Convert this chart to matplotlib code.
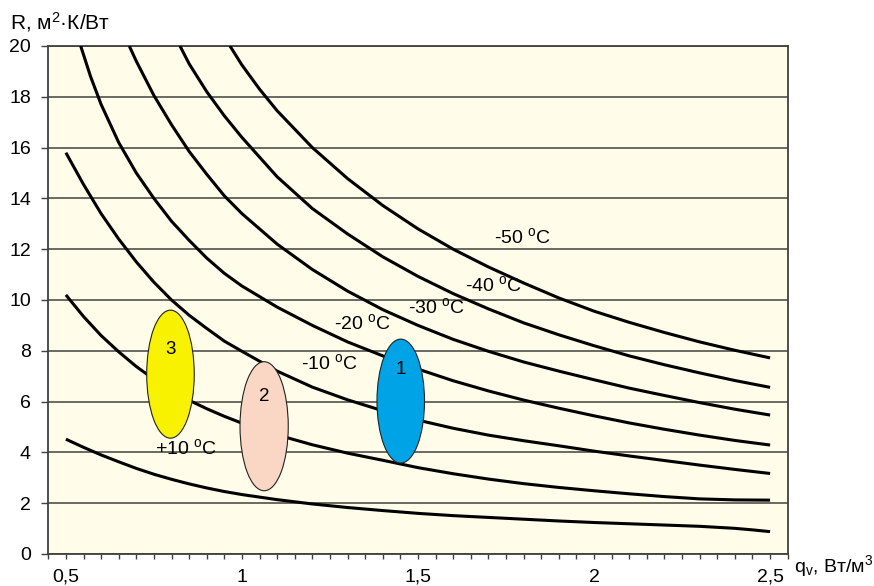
import numpy as np
import matplotlib
matplotlib.use("Agg")
import matplotlib.pyplot as plt
from matplotlib.patches import Ellipse

plt.rcParams['font.family'] = ['Liberation Sans', 'DejaVu Sans']
plt.rcParams['mathtext.default'] = 'regular'

# thermal resistance curves R(q_v) for outside temperatures
q_plus10 = [0.5, 0.55, 0.6, 0.65, 0.7, 0.75, 0.8, 0.85, 0.9, 0.95, 1.0, 1.1, 1.2, 1.3, 1.4,
            1.5, 1.6, 1.7, 1.8, 1.9, 2.0, 2.1, 2.2, 2.3, 2.4, 2.45, 2.5]
r_plus10 = [4.52, 4.2, 3.9, 3.63, 3.37, 3.14, 2.94, 2.76, 2.6, 2.46, 2.34, 2.14, 1.97, 1.83, 1.71,
            1.6, 1.51, 1.44, 1.37, 1.3, 1.24, 1.19, 1.14, 1.09, 1.01, 0.95, 0.88]

q_zero = [0.5, 0.55, 0.6, 0.65, 0.7, 0.75, 0.8, 0.85, 0.9, 0.95, 1.0, 1.1, 1.2, 1.3, 1.4,
          1.5, 1.6, 1.7, 1.8, 1.9, 2.0, 2.1, 2.2, 2.3, 2.4, 2.5]
r_zero = [10.2, 9.35, 8.6, 7.96, 7.38, 6.88, 6.45, 6.05, 5.72, 5.42, 5.15, 4.69, 4.3, 3.97, 3.69,
          3.4, 3.16, 2.95, 2.77, 2.62, 2.49, 2.37, 2.26, 2.17, 2.13, 2.12]

q_minus10 = [0.5, 0.55, 0.6, 0.65, 0.7, 0.75, 0.8, 0.85, 0.9, 0.95, 1.0, 1.1, 1.2, 1.3, 1.4,
             1.5, 1.6, 1.7, 1.8, 1.9, 2.0, 2.1, 2.2, 2.3, 2.4, 2.5]
r_minus10 = [15.8, 14.55, 13.4, 12.4, 11.5, 10.7, 10.0, 9.4, 8.88, 8.38, 7.98, 7.2, 6.57, 6.07, 5.64,
             5.27, 4.95, 4.68, 4.46, 4.26, 4.05, 3.86, 3.68, 3.5, 3.33, 3.17]

q_minus20 = [0.542, 0.57, 0.6, 0.65, 0.7, 0.75, 0.8, 0.85, 0.9, 0.95, 1.0, 1.1, 1.2, 1.3, 1.4,
             1.5, 1.6, 1.7, 1.8, 1.9, 2.0, 2.1, 2.2, 2.3, 2.4, 2.5]
r_minus20 = [20.0, 18.8, 17.7, 16.2, 15.0, 14.0, 13.1, 12.35, 11.65, 11.05, 10.55, 9.72, 9.0, 8.35,
             7.8, 7.28, 6.82, 6.42, 6.06, 5.74, 5.44, 5.16, 4.91, 4.68, 4.47, 4.29]

q_minus30 = [0.68, 0.7, 0.75, 0.8, 0.85, 0.9, 0.95, 1.0, 1.1, 1.2, 1.3, 1.4,
             1.5, 1.6, 1.7, 1.8, 1.9, 2.0, 2.1, 2.2, 2.3, 2.4, 2.5]
r_minus30 = [20.0, 19.4, 18.05, 16.9, 15.85, 14.95, 14.1, 13.4, 12.2, 11.2, 10.35, 9.62,
             9.0, 8.45, 7.98, 7.56, 7.2, 6.86, 6.53, 6.24, 5.96, 5.7, 5.47]

q_minus40 = [0.824, 0.85, 0.9, 0.95, 1.0, 1.1, 1.2, 1.3, 1.4,
             1.5, 1.6, 1.7, 1.8, 1.9, 2.0, 2.1, 2.2, 2.3, 2.4, 2.5]
r_minus40 = [20.0, 19.3, 18.2, 17.25, 16.4, 14.85, 13.6, 12.6, 11.7,
             10.93, 10.25, 9.65, 9.1, 8.63, 8.2, 7.8, 7.45, 7.13, 6.83, 6.56]

q_minus50 = [0.966, 1.0, 1.05, 1.1, 1.2, 1.3, 1.4,
             1.5, 1.6, 1.7, 1.8, 1.9, 2.0, 2.1, 2.2, 2.3, 2.4, 2.5]
r_minus50 = [20.0, 19.25, 18.3, 17.45, 16.0, 14.78, 13.72,
             12.8, 12.0, 11.3, 10.67, 10.08, 9.56, 9.12, 8.72, 8.35, 8.02, 7.72]

curves = [(q_plus10, r_plus10), (q_zero, r_zero), (q_minus10, r_minus10),
          (q_minus20, r_minus20), (q_minus30, r_minus30), (q_minus40, r_minus40),
          (q_minus50, r_minus50)]

# curve captions
label_text = ['+10', '-10', '-20', '-30', '-40', '-50']
label_q = [0.841, 1.249, 1.344, 1.552, 1.716, 1.797]
label_r = [4.16, 7.53, 9.09, 9.72, 10.59, 12.48]

# building groups (ellipses)
zone_names = ['1', '2', '3']
zone_q = [1.451, 1.063, 0.797]
zone_r = [6.02, 5.03, 7.08]
zone_w = [0.135, 0.137, 0.135]
zone_h = [4.88, 5.08, 5.04]
zone_colors = ['#00A3E6', '#FAD6C4', '#F8F200']
zone_text_r = [7.28, 6.19, 8.07]

xtick_vals = [0.5, 1.0, 1.5, 2.0, 2.5]
xtick_text = ['0,5', '1', '1,5', '2', '2,5']

fig = plt.figure(figsize=(8.74, 5.86), dpi=100)
ax = fig.add_axes([0.05526, 0.05461, 0.8460, 0.8669])
ax.set_facecolor('#FFFCE9')

ax.set_xlim(0.45, 2.55)
ax.set_ylim(0, 20)

# all small ticks every 0.05, labels only on round values
ticks = np.round(np.arange(0.45, 2.5501, 0.05), 2)
ax.set_xticks(ticks)
ax.set_xticklabels([xtick_text[xtick_vals.index(t)] if t in xtick_vals else '' for t in ticks])
ax.set_xticks(np.round(np.arange(0.55, 2.46, 0.1), 2), minor=True)
ax.set_yticks(np.arange(0, 21, 2))

ax.tick_params(axis='x', which='major', direction='out', length=3.6, width=1, color='#404040',
               pad=7, labelsize=14)
ax.tick_params(axis='x', which='minor', length=0)
ax.tick_params(axis='y', direction='out', length=5, width=1, color='#404040',
               pad=7.5, labelsize=14)

ax.grid(True, axis='x', which='minor', color='#1e1e1e', lw=0.9)
ax.grid(True, axis='y', which='major', color='#6a6a62', lw=1.4)
ax.set_axisbelow(True)

for s in ax.spines.values():
    s.set_color('#404040')
    s.set_linewidth(1.3)

for q, r in curves:
    ax.plot(q, r, color='black', lw=2.2, solid_capstyle='butt', zorder=3)

for name, xq, yr, w, h, c, ty in zip(zone_names, zone_q, zone_r, zone_w, zone_h,
                                     zone_colors, zone_text_r):
    ax.add_patch(Ellipse((xq, yr), w, h, facecolor=c, edgecolor='#222222', lw=0.8, zorder=4))
    ax.text(xq, ty, name, ha='center', va='center', fontsize=13.5, zorder=5)

for t, xq, yr in zip(label_text, label_q, label_r):
    ax.text(xq, yr, t + r' $^{o}$C', ha='center', va='center', fontsize=14, zorder=5)

fig.text(0.012, 0.962, r'R, м$^{2}$·К/Вт', ha='left', va='center', fontsize=15)
fig.text(0.909, 0.034, r'q$_{v}$, Вт/м$^{3}$', ha='left', va='center', fontsize=14)

fig.savefig('out.png', dpi=100, facecolor='white')
